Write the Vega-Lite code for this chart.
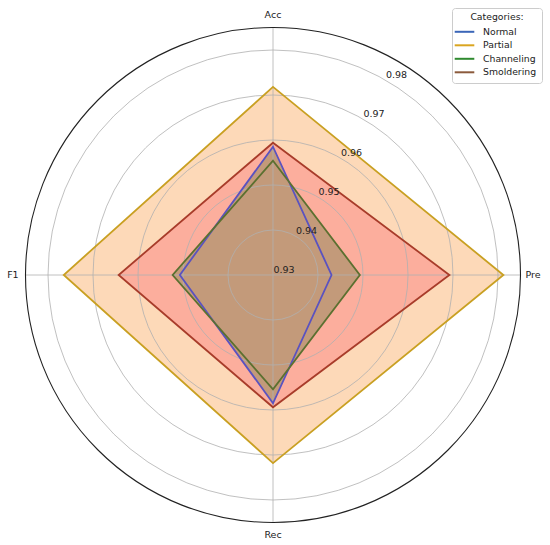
{
  "$schema": "https://vega.github.io/schema/vega-lite/v6.json",
  "width": 495,
  "height": 495,
  "autosize": "none",
  "padding": {"left": 25.5, "top": 27.5, "right": 29.5, "bottom": 22.5},
  "background": "white",
  "config": {"view": {"stroke": null}, "font": "DejaVu Sans"},
  "datasets": {
    "scores": [
      {"category": "Normal", "metric": "Acc", "i": 0, "value": 0.9585},
      {"category": "Normal", "metric": "Pre", "i": 1, "value": 0.943},
      {"category": "Normal", "metric": "Rec", "i": 2, "value": 0.9585},
      {"category": "Normal", "metric": "F1", "i": 3, "value": 0.9507},
      {"category": "Partial", "metric": "Acc", "i": 0, "value": 0.9718},
      {"category": "Partial", "metric": "Pre", "i": 1, "value": 0.9812},
      {"category": "Partial", "metric": "Rec", "i": 2, "value": 0.9718},
      {"category": "Partial", "metric": "F1", "i": 3, "value": 0.9765},
      {"category": "Channeling", "metric": "Acc", "i": 0, "value": 0.9554},
      {"category": "Channeling", "metric": "Pre", "i": 1, "value": 0.9493},
      {"category": "Channeling", "metric": "Rec", "i": 2, "value": 0.9554},
      {"category": "Channeling", "metric": "F1", "i": 3, "value": 0.9523},
      {"category": "Smoldering", "metric": "Acc", "i": 0, "value": 0.9594},
      {"category": "Smoldering", "metric": "Pre", "i": 1, "value": 0.9692},
      {"category": "Smoldering", "metric": "Rec", "i": 2, "value": 0.9594},
      {"category": "Smoldering", "metric": "F1", "i": 3, "value": 0.9643}
    ],
    "ticks": [{"v": 0.93}, {"v": 0.94}, {"v": 0.95}, {"v": 0.96}, {"v": 0.97}, {"v": 0.98}],
    "metrics": [{"metric": "Acc"}, {"metric": "Pre"}, {"metric": "Rec"}, {"metric": "F1"}],
    "cats": [{"cat": "Normal"}, {"cat": "Partial"}, {"cat": "Channeling"}, {"cat": "Smoldering"}],
    "one": [{"k": 1}]
  },
  "layer": [
    {
      "data": {"name": "scores"},
      "transform": [
        {"calculate": "datum.value - 0.93", "as": "r"},
        {"calculate": "datum.metric === 'Pre' ? datum.r : (datum.metric === 'F1' ? -datum.r : 0)", "as": "x"},
        {"calculate": "datum.metric === 'Acc' ? datum.r : (datum.metric === 'Rec' ? -datum.r : 0)", "as": "y"}
      ],
      "encoding": {
        "x": {"field": "x", "type": "quantitative", "scale": {"domain": [-0.055, 0.055], "nice": false, "zero": false}, "axis": null},
        "y": {"field": "y", "type": "quantitative", "scale": {"domain": [-0.055, 0.055], "nice": false, "zero": false}, "axis": null},
        "order": {"field": "i", "type": "quantitative"}
      },
      "layer": [
        {"transform": [{"filter": "datum.category === 'Partial'"}], "mark": {"type": "line", "interpolate": "linear-closed", "fill": "#fdd9b8", "stroke": null, "strokeWidth": 0}},
        {"transform": [{"filter": "datum.category === 'Smoldering'"}], "mark": {"type": "line", "interpolate": "linear-closed", "fill": "#fcae9d", "stroke": null, "strokeWidth": 0}},
        {"transform": [{"filter": "datum.category === 'Normal'"}], "mark": {"type": "line", "interpolate": "linear-closed", "fill": "#c39a7a", "stroke": null, "strokeWidth": 0}},
        {"transform": [{"filter": "datum.category === 'Channeling'"}], "mark": {"type": "line", "interpolate": "linear-closed", "fill": "#c39a7a", "stroke": null, "strokeWidth": 0}}
      ]
    },
    {
      "data": {"name": "ticks"},
      "transform": [{"filter": "datum.v > 0.935"}],
      "mark": {"type": "arc", "theta": 0, "theta2": 6.2832, "filled": false, "fill": null, "stroke": "#b0b0b0", "strokeWidth": 0.8},
      "encoding": {
        "radius": {"field": "v", "type": "quantitative", "stack": null, "scale": {"type": "linear", "domain": [0.93, 0.985], "range": [0, 247.5], "zero": false, "nice": false}}
      }
    },
    {
      "data": {"name": "one"},
      "mark": {"type": "rule", "stroke": "#b0b0b0", "strokeWidth": 0.8},
      "encoding": {
        "x": {"datum": 0, "type": "quantitative"},
        "y": {"datum": -0.055, "type": "quantitative"},
        "y2": {"datum": 0.055}
      }
    },
    {
      "data": {"name": "one"},
      "mark": {"type": "rule", "stroke": "#b0b0b0", "strokeWidth": 0.8},
      "encoding": {
        "y": {"datum": 0, "type": "quantitative"},
        "x": {"datum": -0.055, "type": "quantitative"},
        "x2": {"datum": 0.055}
      }
    },
    {
      "data": {"name": "scores"},
      "transform": [
        {"calculate": "datum.value - 0.93", "as": "r"},
        {"calculate": "datum.metric === 'Pre' ? datum.r : (datum.metric === 'F1' ? -datum.r : 0)", "as": "x"},
        {"calculate": "datum.metric === 'Acc' ? datum.r : (datum.metric === 'Rec' ? -datum.r : 0)", "as": "y"}
      ],
      "encoding": {
        "x": {"field": "x", "type": "quantitative"},
        "y": {"field": "y", "type": "quantitative"},
        "order": {"field": "i", "type": "quantitative"}
      },
      "layer": [
        {"transform": [{"filter": "datum.category === 'Normal'"}], "mark": {"type": "line", "interpolate": "linear-closed", "strokeWidth": 1.8, "stroke": "#5a52c0"}},
        {"transform": [{"filter": "datum.category === 'Partial'"}], "mark": {"type": "line", "interpolate": "linear-closed", "strokeWidth": 1.8, "stroke": "#c9a022"}},
        {"transform": [{"filter": "datum.category === 'Channeling'"}], "mark": {"type": "line", "interpolate": "linear-closed", "strokeWidth": 1.8, "stroke": "#5b7030"}},
        {"transform": [{"filter": "datum.category === 'Smoldering'"}], "mark": {"type": "line", "interpolate": "linear-closed", "strokeWidth": 1.8, "stroke": "#a83c2a"}}
      ]
    },
    {
      "data": {"name": "one"},
      "mark": {"type": "arc", "theta": 0, "theta2": 6.2832, "filled": false, "fill": null, "stroke": "#222222", "strokeWidth": 1.1},
      "encoding": {"radius": {"datum": 0.985, "type": "quantitative", "stack": null}}
    },
    {
      "data": {"name": "ticks"},
      "transform": [
        {"calculate": "(datum.v - 0.93) * 0.5", "as": "lx"},
        {"calculate": "(datum.v - 0.93) * 0.866", "as": "ly"}
      ],
      "mark": {"type": "text", "fontSize": 9.5, "color": "#222222", "align": "center", "baseline": "middle", "dx": 11, "dy": -5},
      "encoding": {
        "x": {"field": "lx", "type": "quantitative"},
        "y": {"field": "ly", "type": "quantitative"},
        "text": {"field": "v", "type": "quantitative", "format": ".2f"}
      }
    },
    {
      "data": {"name": "metrics"},
      "transform": [
        {"calculate": "datum.metric === 'Pre' ? 0.0578 : (datum.metric === 'F1' ? -0.0578 : 0)", "as": "lx"},
        {"calculate": "datum.metric === 'Acc' ? 0.0578 : (datum.metric === 'Rec' ? -0.0578 : 0)", "as": "ly"}
      ],
      "mark": {"type": "text", "fontSize": 9.5, "color": "#222222", "align": "center", "baseline": "middle"},
      "encoding": {
        "x": {"field": "lx", "type": "quantitative"},
        "y": {"field": "ly", "type": "quantitative"},
        "text": {"field": "metric", "type": "nominal"}
      }
    },
    {
      "data": {"name": "cats"},
      "mark": {"type": "line", "strokeWidth": 2},
      "encoding": {
        "x": {"datum": 0, "type": "quantitative"},
        "y": {"datum": 0, "type": "quantitative"},
        "color": {
          "field": "cat", "type": "nominal",
          "scale": {"domain": ["Normal", "Partial", "Channeling", "Smoldering"], "range": ["#3b66b8", "#daa520", "#2f8a2f", "#8b5a3c"]},
          "legend": {
            "title": "Categories:",
            "orient": "none",
            "legendX": 426.5,
            "legendY": -19.5,
            "symbolType": "M-1.6,0H1.6",
            "symbolSize": 150,
            "symbolStrokeWidth": 2,
            "labelFontSize": 9.3,
            "titleFontSize": 9.3,
            "titleFontWeight": "normal",
            "titleAnchor": "middle",
            "titleColor": "#222222",
            "labelColor": "#222222",
            "titlePadding": 2,
            "fillColor": "white",
            "strokeColor": "#cccccc",
            "cornerRadius": 3,
            "padding": 5,
            "labelOffset": 11,
            "rowPadding": 0.5
          }
        }
      }
    }
  ]
}
